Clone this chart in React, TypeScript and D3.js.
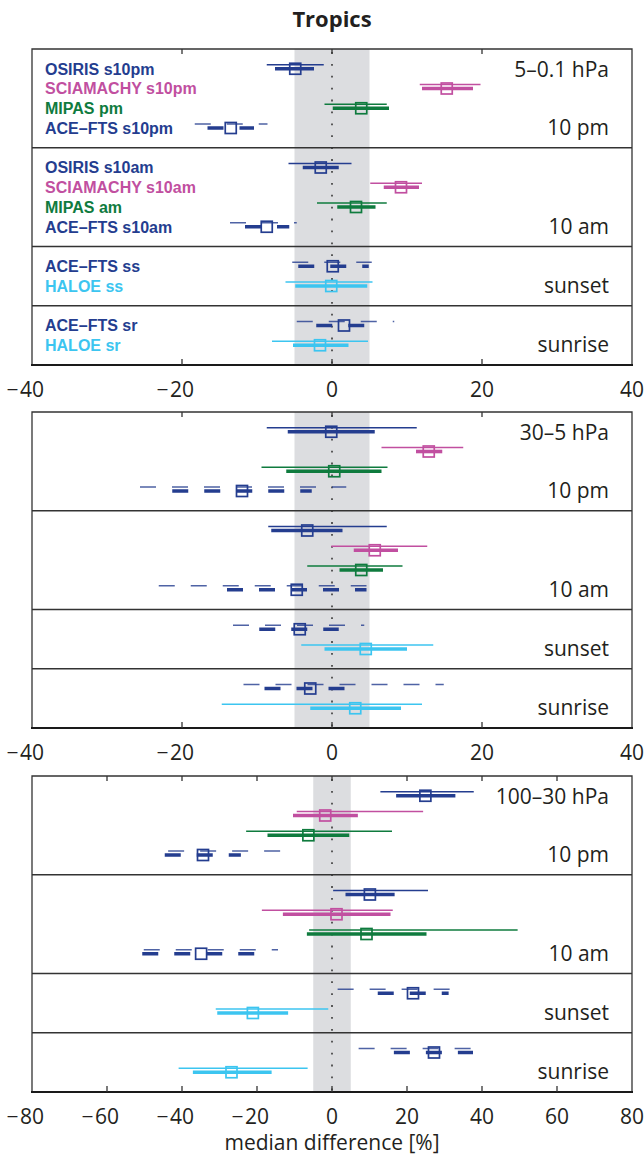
import React from "react";
import * as d3 from "d3";

// Rows from top to bottom, shared by the three pressure panels
const rowLabels = [
  "OSIRIS s10pm", "SCIAMACHY s10pm", "MIPAS pm", "ACE–FTS s10pm",
  "OSIRIS s10am", "SCIAMACHY s10am", "MIPAS am", "ACE–FTS s10am",
  "ACE–FTS ss", "HALOE ss",
  "ACE–FTS sr", "HALOE sr",
];
const rowInstruments = [
  "OSIRIS", "SCIAMACHY", "MIPAS", "ACE-FTS",
  "OSIRIS", "SCIAMACHY", "MIPAS", "ACE-FTS",
  "ACE-FTS", "HALOE",
  "ACE-FTS", "HALOE",
];
const rowSlots = [1, 2, 3, 4, 6, 7, 8, 9, 11, 12, 14, 15];
const slotCount = 16;
const sectionBreaks = [5, 10, 13];
const sectionLabels = ["10 pm", "10 am", "sunset", "sunrise"];
const sectionLabelSlots = [4, 9, 12, 15];

const panelRanges = ["5–0.1 hPa", "30–5 hPa", "100–30 hPa"];
const xDomains: [number, number][] = [[-40, 40], [-40, 40], [-80, 80]];
const xTicks = [
  [-40, -20, 0, 20, 40],
  [-40, -20, 0, 20, 40],
  [-80, -60, -40, -20, 0, 20, 40, 60, 80],
];
const bandLimits = [-5, 5];

const instrumentColors: Record<string, string> = {
  OSIRIS: "#243d8f",
  SCIAMACHY: "#c14fa0",
  MIPAS: "#0f7b3e",
  "ACE-FTS": "#243d8f",
  HALOE: "#3cc5f0",
};
const dashedInstruments = ["ACE-FTS"];

// 5–0.1 hPa
const upperMedian = [-4.9, 15.3, 3.9, -13.5, -1.5, 9.2, 3.2, -8.7, 0.1, -0.1, 1.6, -1.6];
const upperInnerLo = [-7.6, 12.0, 0.1, -16.6, -3.9, 6.9, 0.7, -11.6, -4.5, -4.9, -2.1, -5.2];
const upperInnerHi = [-2.4, 18.8, 7.6, -10.4, 0.9, 11.6, 5.8, -5.7, 4.9, 4.7, 4.3, 2.2];
const upperOuterLo = [-8.7, 11.7, -1.0, -18.3, -5.8, 5.1, -2.0, -13.6, -5.3, -6.2, -4.7, -8.0];
const upperOuterHi = [-1.1, 19.8, 7.3, -8.6, 2.6, 12.0, 7.3, -4.7, 5.3, 5.4, 8.3, 4.8];

// 30–5 hPa
const middleMedian = [-0.1, 12.9, 0.3, -12.0, -3.3, 5.7, 3.9, -4.7, -4.3, 4.5, -2.9, 3.1];
const middleInnerLo = [-5.9, 11.2, -6.1, -21.3, -8.1, 2.9, 1.0, -14.0, -9.7, -1.0, -9.0, -2.9];
const middleInnerHi = [5.7, 14.7, 6.6, -2.7, 1.4, 8.8, 6.8, 4.6, 0.9, 10.0, 1.7, 9.2];
const middleOuterLo = [-8.7, 6.6, -9.4, -25.6, -8.5, -0.1, -3.3, -23.1, -13.2, -4.1, -11.8, -14.7];
const middleOuterHi = [11.3, 17.5, 7.4, 1.9, 7.3, 12.7, 9.4, 4.6, 4.3, 13.5, 14.9, 12.0];

// 100–30 hPa
const lowerMedian = [24.9, -1.8, -6.3, -34.4, 10.1, 1.2, 9.2, -34.9, 21.6, -21.1, 27.2, -26.8];
const lowerInnerLo = [17.1, -10.4, -17.2, -44.6, 3.6, -13.1, -6.7, -50.6, 12.2, -30.6, 16.5, -37.1];
const lowerInnerHi = [32.9, 6.9, 4.6, -24.3, 16.7, 15.6, 25.2, -20.6, 31.1, -11.7, 37.6, -16.1];
const lowerOuterLo = [12.9, -9.4, -22.9, -43.7, 0.3, -18.7, -6.1, -50.2, 1.5, -31.0, 7.1, -40.9];
const lowerOuterHi = [37.8, 24.3, 16.0, -13.6, 25.6, 16.2, 49.5, -14.4, 31.4, -1.0, 37.2, -6.5];

const panelData = [
  { median: upperMedian, innerLo: upperInnerLo, innerHi: upperInnerHi, outerLo: upperOuterLo, outerHi: upperOuterHi },
  { median: middleMedian, innerLo: middleInnerLo, innerHi: middleInnerHi, outerLo: middleOuterLo, outerHi: middleOuterHi },
  { median: lowerMedian, innerLo: lowerInnerLo, innerHi: lowerInnerHi, outerLo: lowerOuterLo, outerHi: lowerOuterHi },
];

const W = 644;
const H = 1165;
const plotLeft = 32;
const plotRight = 632;
const panelTops = [49, 412, 776];
const panelHeight = 316;
const FONT = "'Open Sans', 'Noto Sans', sans-serif";
const LEGEND_FONT = "'Liberation Sans', Arial, sans-serif";

function TickLabel({ x, y, value }: { x: number; y: number; value: number }) {
  const digits = String(Math.abs(value));
  const fs = 21;
  const half = (digits.length * 0.572 * fs) / 2;
  return (
    <g fontFamily={FONT} fontSize={fs} fill="#231f20">
      <text x={x} y={y} textAnchor="middle">{digits}</text>
      {value < 0 && (
        <text x={x - half - 1.5} y={y} textAnchor="end">−</text>
      )}
    </g>
  );
}

function Panel({ index }: { index: number }) {
  const top = panelTops[index];
  const bottom = top + panelHeight;
  const x = d3.scaleLinear().domain(xDomains[index]).range([plotLeft, plotRight]);
  const y = d3.scaleLinear().domain([0, slotCount]).range([top, bottom]);
  const d = panelData[index];
  const thinOffset = -4;
  const boxSize = 11;

  return (
    <g>
      {/* agreement band */}
      <rect
        x={x(bandLimits[0])}
        y={top}
        width={x(bandLimits[1]) - x(bandLimits[0])}
        height={panelHeight}
        fill="#dcdde0"
      />
      {/* zero line */}
      <line
        x1={x(0)} x2={x(0)} y1={top + 3} y2={bottom}
        stroke="#4a4a4a" strokeWidth={1.8} strokeDasharray="1.8 10.1"
      />
      {/* section separators */}
      {sectionBreaks.map((s) => (
        <line key={s} x1={plotLeft} x2={plotRight} y1={y(s)} y2={y(s)} stroke="#333" strokeWidth={1.3} />
      ))}

      {/* data rows */}
      {rowSlots.map((slot, i) => {
        const inst = rowInstruments[i];
        const color = instrumentColors[inst];
        const dash = dashedInstruments.includes(inst) ? "16 16" : undefined;
        const cy = y(slot);
        return (
          <g key={i}>
            <line
              x1={x(d.outerLo[i])} x2={x(d.outerHi[i])}
              y1={cy + thinOffset} y2={cy + thinOffset}
              stroke={color} strokeWidth={1.5} strokeDasharray={dash}
              opacity={dash ? 0.8 : 1}
            />
            <line
              x1={x(d.innerLo[i])} x2={x(d.innerHi[i])}
              y1={cy} y2={cy}
              stroke={color} strokeWidth={3.6} strokeDasharray={dash}
            />
            <rect
              x={x(d.median[i]) - boxSize / 2}
              y={cy - boxSize / 2}
              width={boxSize}
              height={boxSize}
              fill="none"
              stroke={color}
              strokeWidth={1.7}
            />
          </g>
        );
      })}

      {/* frame */}
      <path
        d={`M${plotLeft},${bottom} V${top} H${plotRight} V${bottom}`}
        fill="none" stroke="#333" strokeWidth={1.3}
      />
      <line x1={plotLeft - 1} x2={plotRight + 1} y1={bottom} y2={bottom} stroke="#1a1a1a" strokeWidth={2.2} />
      {xTicks[index].slice(1, -1).map((t) => (
        <g key={t}>
          <line x1={x(t)} x2={x(t)} y1={top} y2={top + 5} stroke="#333" strokeWidth={1.3} />
          <line x1={x(t)} x2={x(t)} y1={bottom} y2={bottom - 6} stroke="#333" strokeWidth={1.3} />
        </g>
      ))}
      {xTicks[index].map((t) => (
        <TickLabel key={t} x={x(t)} y={bottom + 31.5} value={t} />
      ))}

      {/* pressure range and section names */}
      <text
        x={609} y={y(1) + 8} textAnchor="end"
        fontFamily={FONT} fontSize={21} fill="#231f20"
      >
        {panelRanges[index]}
      </text>
      {sectionLabels.map((lab, k) => (
        <text
          key={lab} x={609} y={y(sectionLabelSlots[k]) + 7} textAnchor="end"
          fontFamily={FONT} fontSize={21} fill="#231f20"
        >
          {lab}
        </text>
      ))}

      {/* instrument legend in the top panel only */}
      {index === 0 &&
        rowSlots.map((slot, i) => (
          <text
            key={"lab" + i} x={45} y={y(slot) + 5.8}
            fontFamily={LEGEND_FONT} fontWeight={700} fontSize={16}
            fill={instrumentColors[rowInstruments[i]]}
          >
            {rowLabels[i]}
          </text>
        ))}
    </g>
  );
}

export default function App() {
  return (
    <svg
      width={W}
      height={H}
      viewBox={`0 0 ${W} ${H}`}
      style={{ position: "absolute", left: 0, top: 0, background: "#fff" }}
    >
      <rect width={W} height={H} fill="#fff" />
      <text
        x={332} y={27} textAnchor="middle"
        fontFamily={FONT} fontWeight={700} fontSize={22} fill="#231f20"
      >
        Tropics
      </text>
      {[0, 1, 2].map((i) => (
        <Panel key={i} index={i} />
      ))}
      <text
        x={332} y={1150} textAnchor="middle"
        fontFamily={FONT} fontSize={21} fill="#231f20"
      >
        median difference [%]
      </text>
    </svg>
  );
}
